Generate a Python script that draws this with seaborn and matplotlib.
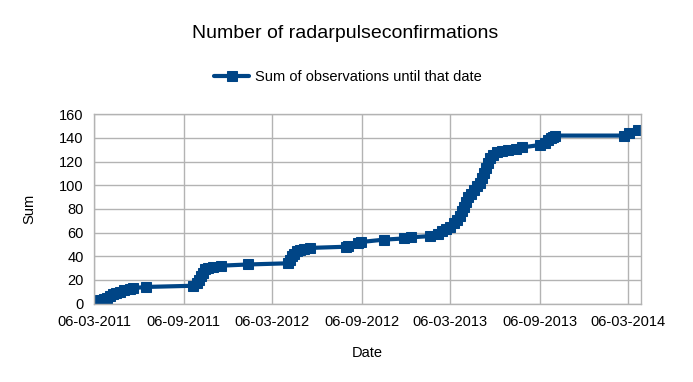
import matplotlib
matplotlib.use("Agg")
import matplotlib.pyplot as plt
import matplotlib.dates as mdates
import seaborn as sns
import pandas as pd

dates = [
    "2011-03-08", "2011-03-12", "2011-03-18", "2011-03-26", "2011-04-02", "2011-04-08",
    "2011-04-14", "2011-04-20", "2011-04-28", "2011-05-07", "2011-05-19", "2011-05-25",
    "2011-06-21", "2011-09-25", "2011-10-03", "2011-10-07", "2011-10-11", "2011-10-16",
    "2011-10-20", "2011-10-26", "2011-11-05", "2011-11-22", "2012-01-16", "2012-04-07",
    "2012-04-11", "2012-04-15", "2012-04-19", "2012-04-25", "2012-05-02", "2012-05-10",
    "2012-05-22", "2012-08-04", "2012-08-08", "2012-08-29", "2012-09-04", "2012-10-21",
    "2012-12-01", "2012-12-16", "2013-01-24", "2013-02-09", "2013-02-17", "2013-02-25",
    "2013-03-05", "2013-03-14", "2013-03-20", "2013-03-26", "2013-03-30", "2013-04-03",
    "2013-04-07", "2013-04-12", "2013-04-18", "2013-04-24", "2013-04-30", "2013-05-06",
    "2013-05-10", "2013-05-14", "2013-05-18", "2013-05-22", "2013-05-26", "2013-06-02",
    "2013-06-10", "2013-06-20", "2013-07-03", "2013-07-19", "2013-07-31", "2013-09-06",
    "2013-09-16", "2013-09-22", "2013-09-28", "2013-10-04", "2013-10-08", "2014-02-26",
    "2014-03-08", "2014-03-27",
]
sums = [
    1, 2, 3, 4, 5, 6,
    8, 9, 10, 11, 12, 13,
    14, 15, 17, 20, 23, 26,
    29, 30, 31, 32, 33, 34,
    37, 40, 42, 44, 45, 46,
    47, 48, 49, 51, 52, 54,
    55, 56, 57, 59, 61, 63,
    65, 68, 71, 74, 78, 82,
    86, 90, 93, 96, 99, 102,
    106, 110, 115, 119, 123, 126,
    128, 129, 130, 131, 132, 134,
    136, 138, 140, 141, 142, 142,
    144, 147,
]
tick_dates = ["2011-03-06", "2011-09-06", "2012-03-06", "2012-09-06",
              "2013-03-06", "2013-09-06", "2014-03-06"]
y_ticks = [0, 20, 40, 60, 80, 100, 120, 140, 160]
series_name = "Sum of observations until that date"

df = pd.DataFrame({"Date": pd.to_datetime(dates), "Sum": sums})

sns.set_style("white")
plt.rcParams["font.family"] = ["Liberation Sans", "DejaVu Sans"]
plt.rcParams["text.color"] = "black"
plt.rcParams["axes.labelcolor"] = "black"

fig = plt.figure(figsize=(6.93, 3.82), dpi=100)
ax = fig.add_axes([94 / 693, 1 - 303.5 / 382, (640.7 - 94) / 693, (303.5 - 114.3) / 382])

blue = "#004586"
grey = "#b3b3b3"
sns.lineplot(data=df, x="Date", y="Sum", ax=ax, color=blue, linewidth=3.0,
             marker="s", markersize=7, markeredgecolor=blue, markerfacecolor=blue,
             label=series_name, legend=False)

ax.set_xlim(pd.Timestamp("2011-03-06"), pd.Timestamp("2014-04-01"))
ax.set_ylim(0, 160)
ax.set_xticks(pd.to_datetime(tick_dates))
ax.xaxis.set_major_formatter(mdates.DateFormatter("%d-%m-%Y"))
ax.set_yticks(y_ticks)
ax.grid(True, color=grey, linewidth=1.0)
ax.set_axisbelow(True)
for s in ax.spines.values():
    s.set_visible(True)
    s.set_color(grey)
    s.set_linewidth(1.0)
ax.tick_params(axis="both", direction="out", length=5.5, width=1.0, color=grey,
               labelsize=10.5, labelcolor="black")
ax.tick_params(axis="x", pad=3)
ax.tick_params(axis="y", pad=2)

ax.set_xlabel("Date", fontsize=10.5, labelpad=12)
ax.set_ylabel("Sum", fontsize=10.5, labelpad=16)

fig.text(345 / 693, 1 - 33 / 382, "Number of radarpulseconfirmations",
         fontsize=14, ha="center", va="center")

handles, labels = ax.get_legend_handles_labels()
fig.legend(handles, labels, loc="center", bbox_to_anchor=(348 / 693, 1 - 77 / 382),
           frameon=False, fontsize=10.5, handlelength=2.4, handletextpad=0.4)

fig.savefig("out.png", dpi=100)
